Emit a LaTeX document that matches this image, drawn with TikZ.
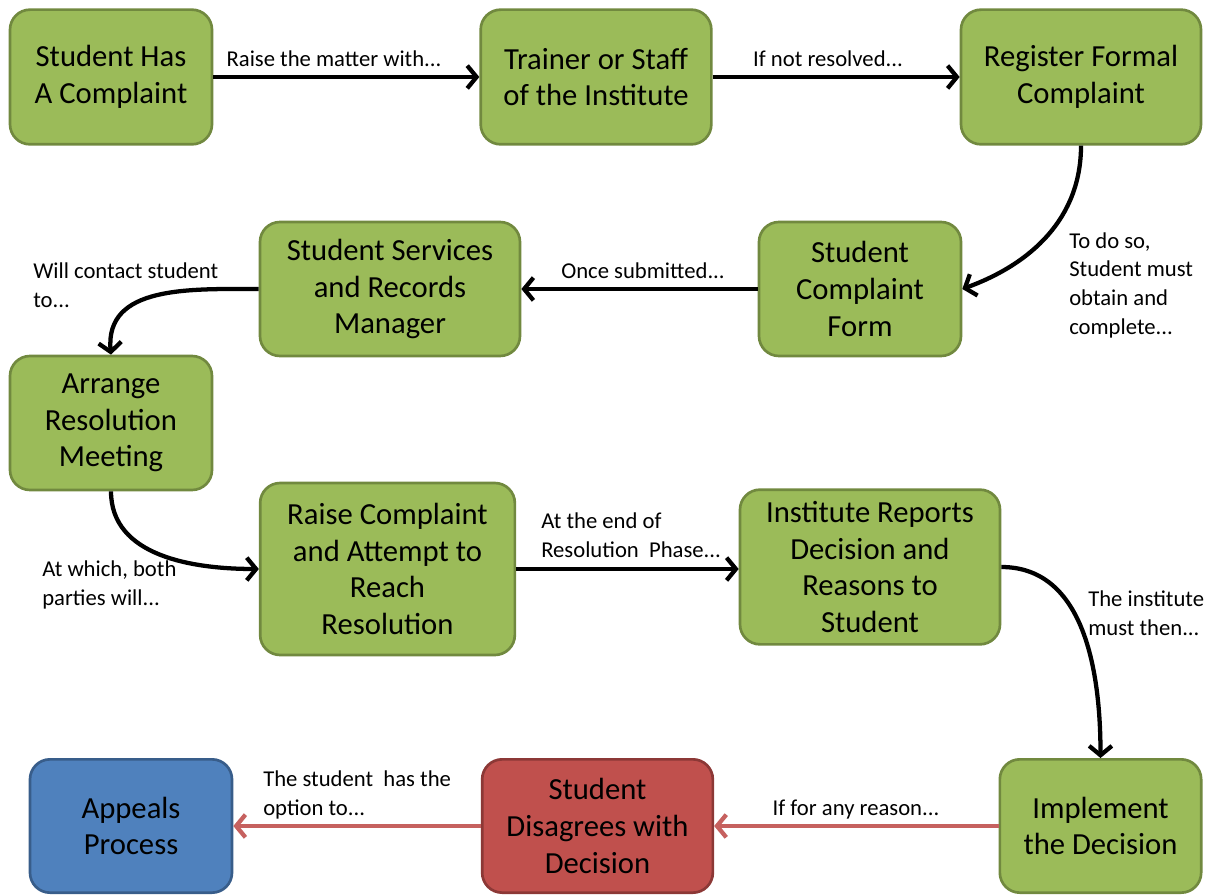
\documentclass[tikz,border=0pt]{standalone}
\usepackage{fontspec}
\setmainfont{Carlito}
\usetikzlibrary{arrows.meta}

\definecolor{stepgreen}{HTML}{9BBB59}
\definecolor{stepgreenline}{HTML}{71893F}
\definecolor{stepred}{HTML}{C0504D}
\definecolor{stepredline}{HTML}{8C3836}
\definecolor{stepblue}{HTML}{4F81BD}
\definecolor{stepblueline}{HTML}{385D8A}

\tikzset{
  stepbox/.style={rectangle, rounded corners=15pt, line width=2pt, align=center,
    inner sep=0pt, font=\fontsize{23pt}{27.5pt}\selectfont},
  greenbox/.style={stepbox, fill=stepgreen, draw=stepgreenline},
  redbox/.style={stepbox, fill=stepred, draw=stepredline},
  bluebox/.style={stepbox, fill=stepblue, draw=stepblueline},
  note/.style={inner sep=0pt, font=\fontsize{17pt}{21.5pt}\selectfont},
  notel/.style={note, align=left, anchor=west},
  flow/.style={line width=3.2pt, black, -{Straight Barb[length=7pt,width=17pt]}},
  redflow/.style={flow, draw=stepred!90!white},
}

\begin{document}
\begin{tikzpicture}[x=0.75pt, y=-0.75pt]
\useasboundingbox (0,0) rectangle (1209,895);

% process steps
\node[greenbox, minimum width=151.5pt, minimum height=101pt] (complaint) at (111,77) {Student Has\\A Complaint};
\node[greenbox, minimum width=173pt, minimum height=101pt] (trainer) at (596,77) {Trainer or Staff\\of the Institute};
\node[greenbox, minimum width=180pt, minimum height=101pt] (register) at (1081,77) {Register Formal\\Complaint};
\node[greenbox, minimum width=151.5pt, minimum height=100.5pt] (form) at (860,289) {Student\\Complaint\\Form};
\node[greenbox, minimum width=195pt, minimum height=100.5pt] (services) at (390,289) {Student Services\\and Records\\Manager};
\node[greenbox, minimum width=151.5pt, minimum height=100.5pt] (meeting) at (111,423) {Arrange\\Resolution\\Meeting};
\node[greenbox, minimum width=191pt, minimum height=129pt] (raise) at (387.5,569) {Raise Complaint\\and Attempt to\\Reach\\Resolution};
\node[greenbox, minimum width=195pt, minimum height=116pt] (reports) at (870,567) {Institute Reports\\Decision and\\Reasons to\\Student};
\node[greenbox, minimum width=151pt, minimum height=100pt] (implement) at (1100.5,826) {Implement\\the Decision};
\node[redbox, minimum width=173pt, minimum height=100pt] (disagree) at (597.5,826) {Student\\Disagrees with\\Decision};
\node[bluebox, minimum width=151.5pt, minimum height=100pt] (appeals) at (131,826) {Appeals\\Process};

% connectors
\draw[flow] (complaint.east) -- (trainer.west);
\draw[flow] (trainer.east) -- (register.west);
\draw[flow] (register.south) to[out=-90, in=20] (form.east);
\draw[flow] (form.west) -- (services.west -| services.east);
\draw[flow] (services.west) to[out=180, in=95, looseness=1.1] (meeting.north);
\draw[flow] (meeting.south) to[out=-90, in=180] (raise.west);
\draw[flow] (raise.east) -- (raise.east -| reports.west);
\draw[flow] (reports.east) to[out=0, in=90] (implement.north);
\draw[redflow] (implement.west) -- (disagree.east);
\draw[redflow] (disagree.west) -- (appeals.east);

% connector labels
\node[note] (l1) at (334,59) {Raise the matter with...};
\node[note] (l2) at (828,59) {If not resolved...};
\node[notel] (l3) at (1069,285) {To do so,\\Student must\\obtain and\\complete...};
\node[note] (l4) at (643,271) {Once submitted...};
\node[notel] (l5) at (33,285) {Will contact student\\to...};
\node[notel] (l6) at (42,585) {At which, both\\parties will...};
\node[notel] (l7) at (541,535) {At the end of\\Resolution\ \ Phase...};
\node[notel] (l8) at (1088,613) {The institute\\must then...};
\node[notel] (l9) at (263,795) {The student\ \ has the\\option to...};
\node[note] (l10) at (856,810) {If for any reason...};
\end{tikzpicture}
\end{document}
